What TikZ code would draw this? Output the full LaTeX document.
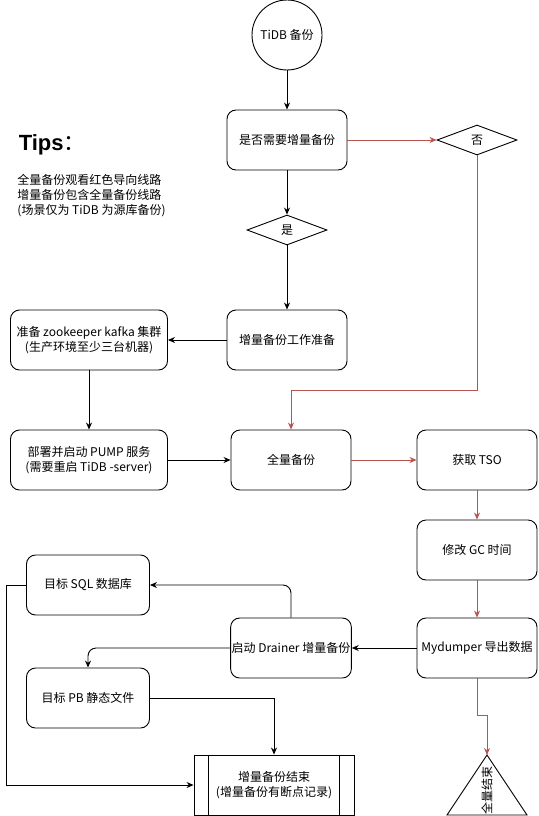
\documentclass[tikz,border=0pt]{standalone}
\usepackage{fontspec}
\setmainfont{Noto Sans CJK SC}
\newfontfamily\tipsfont{Liberation Sans}
\usetikzlibrary{arrows.meta}
\usetikzlibrary{shapes.geometric}
\definecolor{redline}{HTML}{B85450}

\begin{document}
\begin{tikzpicture}[x=1pt, y=-1pt, line width=0.9pt,
    font=\fontsize{12}{15}\selectfont,
    >={Stealth[length=7pt, width=6pt]},
    box/.style={draw, rounded corners=9pt, minimum width=120pt, minimum height=60pt, inner sep=1pt, align=center},
    choice/.style={draw, diamond, aspect=2.67, minimum width=80pt, minimum height=30pt, inner sep=0pt},
    redarrow/.style={->, draw=redline}]
\useasboundingbox (0,0) rectangle (538,816);

%tips
\node (tips) [anchor=west, font=\fontsize{22}{26}\selectfont] at (15,145) {{\tipsfont\bfseries Tips}：};
\node (note) [anchor=north west, align=left, inner sep=0pt, font=\fontsize{12}{15}\selectfont] at (17,174)
  {全量备份观看红色导向线路\\增量备份包含全量备份线路\\(场景仅为 TiDB 为源库备份)};

%draw steps
\node (start) [draw, circle, minimum size=70pt, inner sep=0pt] at (287,35) {TiDB 备份};
\node (ask) [box] at (287,140) {是否需要增量备份};
\node (no) [choice] at (477,140) {否};
\node (yes) [choice] at (287,230) {是};
\node (prep) [box] at (287,340) {增量备份工作准备};
\node (zk) [box, minimum width=157pt] at (89,340) {准备 zookeeper kafka 集群\\(生产环境至少三台机器)};
\node (pump) [box, minimum width=157pt] at (89,460) {部署并启动 PUMP 服务\\(需要重启 TiDB -server)};
\node (full) [box] at (291,460) {全量备份};
\node (tso) [box] at (477,460) {获取 TSO};
\node (gc) [box] at (477,550) {修改 GC 时间};
\node (dump) [box] at (477,648) {Mydumper 导出数据};
\node (drain) [box] at (291,648) {启动 Drainer 增量备份};
\node (sql) [box, minimum width=123pt] at (88,585) {目标 SQL 数据库};
\node (pb) [box, minimum width=123pt] at (88,698) {目标 PB 静态文件};
\node (done) [draw, minimum width=160pt, minimum height=60pt, align=center] at (274,785) {增量备份结束\\(增量备份有断点记录)};
\draw ([xshift=15pt]done.north west) -- ([xshift=15pt]done.south west);
\draw ([xshift=-15pt]done.north east) -- ([xshift=-15pt]done.south east);

%draw end triangle
\draw (487,755) -- (527,815) -- (447,815) -- cycle;
\coordinate (apex) at (487,755);
\node (fullend) [rotate=90] at (487,790) {全量结束};

%black flow
\draw[->] (start) -- (ask);
\draw[->] (ask) -- (yes);
\draw[->] (yes) -- (prep);
\draw[->] (prep) -- (zk);
\draw[->] (zk) -- (pump);
\draw[->] (pump) -- (full);
\draw[->] (dump) -- (drain);
\draw[->, rounded corners=8pt] (drain.north) |- (sql.east);
\draw[->, rounded corners=8pt] (drain.west) -| (pb.north);
\draw[->] (pb.east) -| (done.north);
\draw[->] (sql.west) -- ++(-20,0) |- (done.west);

%red flow
\draw[redarrow] (ask) -- (no);
\draw[redarrow] (no.south) -- ++(0,235) -| (full.north);
\draw[redarrow] (full) -- (tso);
\draw[redarrow] (tso) -- (gc);
\draw[redarrow] (gc) -- (dump);
\draw[redarrow] (dump.south) -- ++(0,37) -| (apex);

\end{tikzpicture}
\end{document}
